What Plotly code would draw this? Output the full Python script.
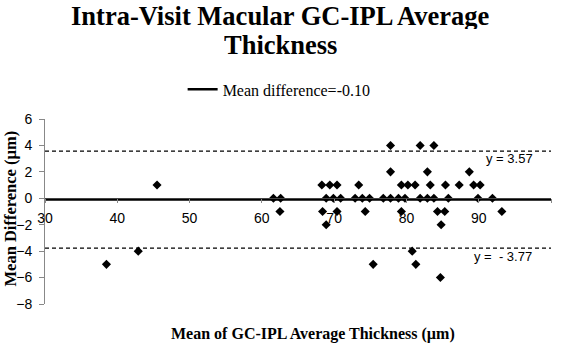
import plotly.graph_objects as go

# ---- data ----
mean_x = [38.5, 42.9, 45.5,
          61.6, 62.6, 62.5,
          68.3, 69.4, 70.4, 73.4, 79.3, 80.2, 81.2, 83.3, 85.4, 87.3, 89.3, 90.2,
          68.9, 69.9, 70.9, 72.9, 73.9, 74.9, 76.8, 77.8, 78.9, 79.8, 81.9, 82.9, 83.8, 85.8, 89.9, 91.9,
          68.4, 70.4, 74.3, 79.3, 84.3, 85.3, 93.2,
          77.8, 82.9, 88.7,
          77.8, 81.9, 83.8,
          68.9, 84.8,
          80.8,
          75.4, 81.3,
          84.7]
diff_y = [-5, -4, 1,
          0, 0, -1,
          1, 1, 1, 1, 1, 1, 1, 1, 1, 1, 1, 1,
          0, 0, 0, 0, 0, 0, 0, 0, 0, 0, 0, 0, 0, 0, 0, 0,
          -1, -1, -1, -1, -1, -1, -1,
          2, 2, 2,
          4, 4, 4,
          -2, -2,
          -4,
          -5, -5,
          -6]
MEAN_DIFF = -0.10
UPPER_LOA = 3.57
LOWER_LOA = -3.77
X_RANGE = [30, 100]
Y_RANGE = [-8, 6]
TITLE_LINES = ["Intra-Visit Macular GC-IPL Average", "Thickness"]

serif = "Liberation Serif"
sans = "Liberation Sans"

fig = go.Figure()
fig.add_trace(go.Scatter(x=mean_x, y=diff_y, mode="markers",
                         marker=dict(symbol="diamond", size=7, color="black"),
                         showlegend=False))
fig.add_trace(go.Scatter(x=X_RANGE, y=[MEAN_DIFF, MEAN_DIFF], mode="lines",
                         line=dict(color="black", width=2.5),
                         name="Mean difference=%.2f" % MEAN_DIFF))
for v in (UPPER_LOA, LOWER_LOA):
    fig.add_trace(go.Scatter(x=X_RANGE, y=[v, v], mode="lines",
                             line=dict(color="black", width=1.2, dash="4px,3px"),
                             showlegend=False, hoverinfo="skip"))

fig.add_annotation(x=94.3, y=UPPER_LOA, xref="x", yref="y", yshift=-7,
                   text="y = %.2f" % UPPER_LOA, showarrow=False,
                   font=dict(family=sans, size=13, color="black"))
fig.add_annotation(x=93.4, y=LOWER_LOA, xref="x", yref="y", yshift=-8,
                   text="y =  - %.2f" % abs(LOWER_LOA), showarrow=False,
                   font=dict(family=sans, size=13, color="black"))

# title (two lines, tight spacing)
for txt, ypos in zip(TITLE_LINES, (1.558, 1.398)):
    fig.add_annotation(x=0.466, y=ypos, xref="paper", yref="paper",
                       text="<b>%s</b>" % txt, showarrow=False, height=26,
                       font=dict(family=serif, size=26.5, color="black"),
                       xanchor="center", yanchor="middle", valign="middle")

fig.add_annotation(x=-0.068, y=0.514, xref="paper", yref="paper", textangle=-90,
                   text="<b>Mean Difference (µm)</b>", showarrow=False,
                   font=dict(family=serif, size=16.5, color="black"),
                   xanchor="center", yanchor="middle")
fig.add_annotation(x=0.529, y=-0.162, xref="paper", yref="paper",
                   text="<b>Mean of GC-IPL Average Thickness (µm)</b>", showarrow=False,
                   font=dict(family=serif, size=16, color="black"),
                   xanchor="center", yanchor="middle")

fig.update_layout(
    width=561, height=344,
    margin=dict(l=45, r=10, t=119, b=40),
    paper_bgcolor="white", plot_bgcolor="white",
    legend=dict(orientation="h", x=0.272, xanchor="left", y=1.16, yanchor="middle",
                font=dict(family=serif, size=16, color="black"),
                bgcolor="rgba(0,0,0,0)"),
    xaxis=dict(range=X_RANGE, dtick=10, anchor="free",
               position=(0 - Y_RANGE[0]) / (Y_RANGE[1] - Y_RANGE[0]),
               showline=True, linecolor="#444", linewidth=1,
               ticks="outside", ticklen=4, tickcolor="#888", ticklabelstandoff=3,
               showgrid=False, zeroline=False,
               tickfont=dict(family=sans, size=14, color="black")),
    yaxis=dict(range=Y_RANGE, dtick=2, showline=True, linecolor="#888", linewidth=1,
               ticks="outside", ticklen=5, tickcolor="#888", ticklabelstandoff=4,
               showgrid=False, zeroline=False,
               tickfont=dict(family=sans, size=14, color="black")),
)

fig.write_html("out.html", config={"displayModeBar": False},
               post_script="document.body.style.margin='0';")
